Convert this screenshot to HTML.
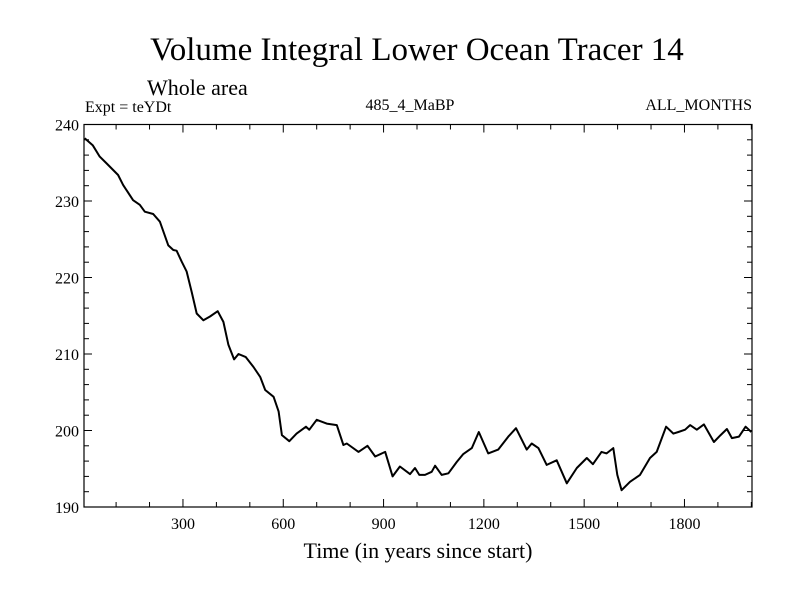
<!DOCTYPE html>
<html><head><meta charset="utf-8"><style>
body{margin:0;background:#fff;}
svg text{font-family:"Liberation Serif",serif;fill:#000;}
</style></head><body>
<svg id="chart" width="800" height="600">
<text x="417" y="60" font-size="33" text-anchor="middle">Volume Integral Lower Ocean Tracer 14</text>
<text x="147" y="95" font-size="22">Whole area</text>
<text x="85" y="112" font-size="16">Expt = teYDt</text>
<text x="410" y="110" font-size="16" text-anchor="middle">485_4_MaBP</text>
<text x="752" y="110" font-size="16" text-anchor="end">ALL_MONTHS</text>
<text x="418" y="558" font-size="22" text-anchor="middle">Time (in years since start)</text>
<g id="axes"></g>
<path id="line" fill="none" stroke="#000" stroke-width="2" stroke-linejoin="round"></path>
<rect x="84" y="124.5" width="668" height="382.5" fill="none" stroke="#000" stroke-width="1.2"></rect>
</svg>
<script>
const years=[6,30,51,72,106,121,151,171,186,211,231,256,271,281,296,311,326,341,361,381,404,421,436,453,466,488,511,531,546,571,586,596,618,640,668,678,700,730,760,780,790,825,852,875,905,927,949,979,994,1007,1024,1044,1054,1074,1094,1119,1138,1164,1185,1213,1243,1273,1296,1328,1343,1363,1388,1418,1448,1478,1508,1526,1552,1567,1587,1599,1612,1637,1667,1697,1717,1745,1767,1782,1802,1817,1837,1858,1888,1908,1927,1942,1963,1983,2000];
const values=[238.2,237.3,235.8,234.9,233.4,232.1,230.1,229.5,228.6,228.3,227.3,224.2,223.6,223.5,222.1,220.8,218.1,215.3,214.4,214.9,215.6,214.2,211.2,209.3,210,209.6,208.3,207,205.3,204.4,202.5,199.4,198.6,199.6,200.5,200.1,201.4,200.9,200.7,198.1,198.3,197.2,198,196.6,197.2,194,195.3,194.3,195.1,194.2,194.2,194.6,195.4,194.2,194.4,195.9,196.9,197.7,199.8,197,197.5,199.2,200.3,197.5,198.3,197.7,195.5,196.1,193.1,195.1,196.4,195.6,197.2,197,197.7,194.2,192.2,193.3,194.2,196.4,197.2,200.5,199.6,199.8,200.1,200.7,200.1,200.8,198.5,199.4,200.2,199,199.2,200.5,199.8];
const xTicks=[300,600,900,1200,1500,1800];
const yTicks=[190,200,210,220,230,240];
const X0=84,X1=752,Y0=124.5,Y1=507,XMIN=4,XMAX=2002,YMIN=190,YMAX=240;
function sx(v){return X0+(v-XMIN)/(XMAX-XMIN)*(X1-X0);}
function sy(v){return Y1-(v-YMIN)/(YMAX-YMIN)*(Y1-Y0);}
const NS="http://www.w3.org/2000/svg";
const ax=document.getElementById('axes');
function ln(x1,y1,x2,y2){const l=document.createElementNS(NS,'line');l.setAttribute('x1',x1);l.setAttribute('y1',y1);l.setAttribute('x2',x2);l.setAttribute('y2',y2);l.setAttribute('stroke','#000');l.setAttribute('stroke-width','1');


ax.appendChild(l);}
function tx(x,y,s,anchor){const t=document.createElementNS(NS,'text');t.setAttribute('x',x);t.setAttribute('y',y);t.setAttribute('font-size','16');t.setAttribute('text-anchor',anchor);t.textContent=s;


ax.appendChild(t);}
for(let yr=100;yr<=2000;yr+=100){const x=sx(yr);const L=(yr%300===0)?8:5;ln(x,Y1,x,Y1-L);ln(x,Y0,x,Y0+L);}
for(let v=190;v<=240;v+=2){const y=sy(v);const L=(v%10===0)?8:5;ln(X0,y,X0+L,y);ln(X1,y,X1-L,y);}
xTicks.forEach(v=>tx(sx(v),529,String(v),'middle'));
yTicks.forEach(v=>tx(X0-5,sy(v)+6,String(v),'end'));
let d='';years.forEach((yr,i)=>{d+=(i?'L':'M')+sx(yr).toFixed(1)+','+sy(values[i]).toFixed(1);});
document.getElementById('line').setAttribute('d',d);
</script>
</body></html>
